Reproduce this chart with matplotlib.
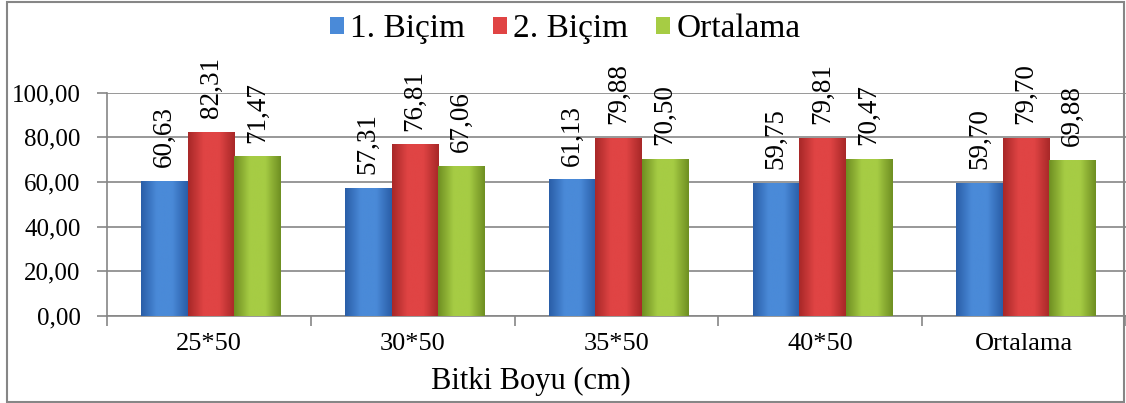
import numpy as np
import matplotlib
matplotlib.use("Agg")
import matplotlib.pyplot as plt
from matplotlib.patches import Rectangle
from matplotlib.colors import LinearSegmentedColormap

categories = ["25*50", "30*50", "35*50", "40*50", "Ortalama"]
series_names = ["1. Biçim", "2. Biçim", "Ortalama"]
bicim1 = [60.63, 57.31, 61.13, 59.75, 59.70]
bicim2 = [82.31, 76.81, 79.88, 79.81, 79.70]
ortalama = [71.47, 67.06, 70.50, 70.47, 69.88]
yticks = [0, 20, 40, 60, 80, 100]
xlabel = "Bitki Boyu (cm)"

plt.rcParams['font.family'] = ['Liberation Serif', 'DejaVu Serif']

W, H = 1126, 403
fig = plt.figure(figsize=(W / 100, H / 100), dpi=100)

left_px, right_px = 107, 1126
bottom_px, top_px = 316, 92.7
ax = fig.add_axes([left_px / W, (H - bottom_px) / H, (right_px - left_px) / W, (bottom_px - top_px) / H])

cat_w = 204.5

colors = [
    ("#2a5ea8", "#4a8ad8", "#2a5ea8"),
    ("#a82828", "#e04444", "#a82828"),
    ("#6f8f22", "#a6cc44", "#6f8f22"),
]
series = [bicim1, bicim2, ortalama]
bw = 0.228
x = np.arange(len(categories))
offsets = [-bw, 0, bw]
handles = []
for vals, off, (c0, c1, c2), name in zip(series, offsets, colors, series_names):
    bars = ax.bar(x + off + 0.01, vals, width=bw, color=c1, edgecolor="none", zorder=3, label=name)
    cmap = LinearSegmentedColormap.from_list("g", [c0, c1, c1, c2])
    grad = np.linspace(0, 1, 64).reshape(1, -1)
    for b in bars:
        bx, by = b.get_x(), b.get_y()
        bwid, bh = b.get_width(), b.get_height()
        im = ax.imshow(grad, extent=(bx, bx + bwid, by, by + bh), aspect="auto",
                       cmap=cmap, zorder=3.5, interpolation="bicubic")
        im.set_clip_path(b)
        ax.annotate(f"{b.get_height():.2f}".replace(".", ","),
                    (bx + bwid / 2, by + bh), xytext=(0, 10), textcoords="offset points",
                    ha="center", va="bottom", rotation=90, fontsize=19.5, zorder=5,
                    annotation_clip=False)
    handles.append(bars)

ax.set_xlim(-0.5, -0.5 + (right_px - left_px) / cat_w)
ax.set_ylim(0, 100)

ax.set_yticks(yticks)
ax.set_yticklabels([f"{v:.2f}".replace(".", ",") for v in yticks], fontsize=18)
ax.set_xticks(x)
ax.set_xticklabels(categories, fontsize=19)
ax.set_xticks(np.arange(-0.5, len(categories) + 0.5, 1), minor=True)
ax.tick_params(axis="x", which="major", length=0, pad=12)
ax.tick_params(axis="x", which="minor", length=7, color="#868686", width=1.2)
ax.tick_params(axis="y", length=7, color="#868686", width=1.2, pad=12)
ax.yaxis.grid(True, color="#868686", linewidth=1.2, zorder=0)
ax.set_axisbelow(True)
for s in ["top", "right"]:
    ax.spines[s].set_visible(False)
for s in ["left", "bottom"]:
    ax.spines[s].set_color("#868686")
    ax.spines[s].set_linewidth(1.2)

fig.text(531 / W, 1 - 381 / H, xlabel, ha="center", va="center", fontsize=22)

leg = fig.legend(handles=handles, labels=series_names, loc="center",
                 bbox_to_anchor=(565 / W, 1 - 29 / H), ncol=3, frameon=False,
                 fontsize=24, handlelength=0.42, handleheight=0.42, handletextpad=0.18,
                 columnspacing=0.85)

fig.patches.append(Rectangle((7 / W, 1.5 / H), (1124 - 7) / W, (401.5 - 1.5) / H,
                             transform=fig.transFigure, fill=False,
                             edgecolor="#868686", linewidth=1.5))

fig.savefig("out.png", dpi=100)
